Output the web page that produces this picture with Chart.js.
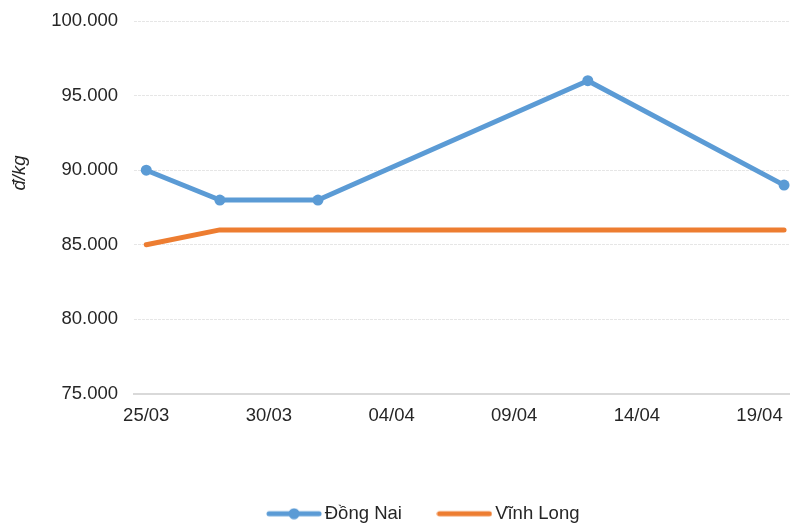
<!DOCTYPE html>
<html>
<head>
<meta charset="utf-8">
<script src="https://cdn.jsdelivr.net/npm/chart.js@4"></script>
<style>
html,body{margin:0;padding:0;overflow:hidden;background:#fff;width:790px;height:523px;}
canvas{display:block;}
</style>
</head>
<body>
<canvas id="c" width="852" height="533"></canvas>
<script>
// ---- data ----
const dates = ['25/03', '28/03', '01/04', '12/04', '20/04'];
const dongNai = [90000, 88000, 88000, 96000, 89000];
const vinhLong = [85000, 86000, 86000, 86000, 86000];
const xTickLabels = ['25/03', '30/03', '04/04', '09/04', '14/04', '19/04'];
const seriesNames = ['Đồng Nai', 'Vĩnh Long'];
const yTitle = 'đ/kg';

// ---- helpers ----
function dayIndex(lbl) {
  const [d, m] = lbl.split('/').map(Number);
  const [d0, m0] = dates[0].split('/').map(Number);
  return Math.round((Date.UTC(2024, m - 1, d) - Date.UTC(2024, m0 - 1, d0)) / 86400000);
}
function fmt(v) { return String(v).replace(/\B(?=(\d{3})+(?!\d))/g, '.'); }

const FONT = '"Liberation Sans", Arial, sans-serif';
const TXT = '#262626';
const BLUE = '#5b9bd5', ORANGE = '#ed7d31';

function legendImg(color, marker) {
  const c = document.createElement('canvas');
  c.width = 56; c.height = 12;
  const g = c.getContext('2d');
  g.strokeStyle = color; g.lineWidth = 5; g.lineCap = 'round';
  g.beginPath(); g.moveTo(3, 6); g.lineTo(53, 6); g.stroke();
  if (marker) { g.fillStyle = color; g.beginPath(); g.arc(28, 6, 5.5, 0, Math.PI * 2); g.fill(); }
  return c;
}
const imgs = [legendImg(BLUE, true), legendImg(ORANGE, false)];

const yTitlePlugin = {
  id: 'yTitle',
  afterDraw(chart) {
    const ctx = chart.ctx;
    ctx.save();
    ctx.translate(20, 173);
    ctx.rotate(-Math.PI / 2);
    ctx.font = 'italic 18.5px ' + FONT;
    ctx.fillStyle = TXT;
    ctx.textAlign = 'center';
    ctx.textBaseline = 'middle';
    ctx.fillText(yTitle, 0, 0);
    ctx.restore();
  }
};

new Chart(document.getElementById('c'), {
  type: 'line',
  data: {
    datasets: [
      {
        label: seriesNames[0],
        data: dates.map((d, i) => ({ x: dayIndex(d), y: dongNai[i] })),
        borderColor: BLUE, backgroundColor: BLUE,
        borderWidth: 5, pointRadius: 5.5, pointHoverRadius: 5.5,
        pointBackgroundColor: BLUE, pointBorderWidth: 0,
        borderCapStyle: 'round', borderJoinStyle: 'round',
        tension: 0, pointStyle: 'circle'
      },
      {
        label: seriesNames[1],
        data: dates.map((d, i) => ({ x: dayIndex(d), y: vinhLong[i] })),
        borderColor: ORANGE, backgroundColor: ORANGE,
        borderWidth: 5, pointRadius: 0, pointHoverRadius: 0,
        borderCapStyle: 'round', borderJoinStyle: 'round',
        tension: 0
      }
    ]
  },
  options: {
    responsive: false,
    animation: false,
    events: [],
    layout: { autoPadding: false, padding: { top: 21, left: 0, right: 0, bottom: 0 } },
    font: { family: FONT },
    scales: {
      x: {
        type: 'linear',
        min: -0.5,
        max: 28.77,
        afterBuildTicks(scale) { scale.ticks = xTickLabels.map(l => ({ value: dayIndex(l) })); },
        afterFit(scale) { scale.height = 69.5; },
        ticks: {
          autoSkip: false, maxRotation: 0, padding: 11,
          color: TXT, font: { family: FONT, size: 18.5 },
          callback: (v, i) => xTickLabels[i]
        },
        grid: { display: false, drawTicks: false },
        border: { display: true, color: '#d9d9d9', width: 2 }
      },
      y: {
        min: 75000, max: 100000,
        afterFit(scale) { scale.width = 134; scale.paddingTop = 0; scale.paddingBottom = 0; },
        ticks: {
          stepSize: 5000, padding: 16,
          color: TXT, font: { family: FONT, size: 18.5 },
          callback: v => fmt(v)
        },
        grid: {
          drawTicks: false,
          color: ctx => ctx.tick && ctx.tick.value === 75000 ? 'rgba(0,0,0,0)' : '#e6e6e6',
          lineWidth: 1
        },
        border: { display: false, dash: [3, 1] }
      }
    },
    plugins: {
      legend: {
        position: 'bottom',
        labels: {
          usePointStyle: true,
          pointStyleWidth: 43,
          padding: 41,
          color: TXT,
          font: { family: FONT, size: 18.5 },
          generateLabels: chart => chart.data.datasets.map((ds, i) => ({
            text: ds.label, pointStyle: imgs[i], fillStyle: ds.borderColor,
            strokeStyle: ds.borderColor, lineWidth: 0, hidden: false, datasetIndex: i, fontColor: TXT
          }))
        }
      },
      tooltip: { enabled: false }
    }
  },
  plugins: [yTitlePlugin]
});
</script>
</body>
</html>
